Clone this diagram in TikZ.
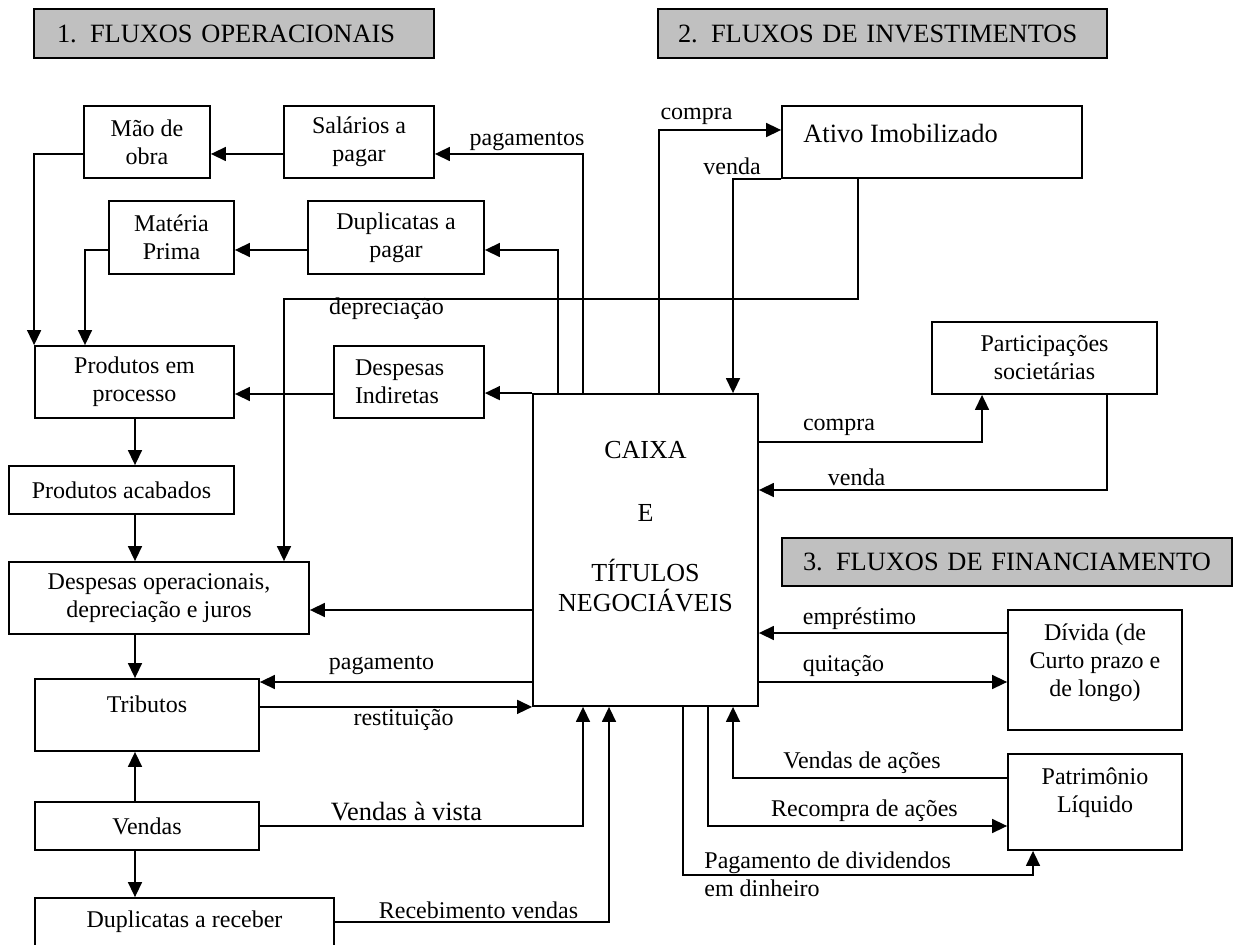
\documentclass[tikz,border=0pt]{standalone}
\usepackage{fontspec}
\setmainfont{Liberation Serif}
\usetikzlibrary{arrows.meta,calc}
\definecolor{hdrgray}{RGB}{192,192,192}
\tikzset{
  box/.style={draw, line width=0.9pt, align=center, inner sep=2pt, font=\fontsize{12}{14}\selectfont},
  header/.style={draw, line width=1pt, fill=hdrgray, align=left, inner ysep=0pt, font=\fontsize{13.2}{15}\selectfont},
  lbl/.style={inner sep=0pt, font=\fontsize{12}{14}\selectfont},
  biglbl/.style={inner sep=0pt, font=\fontsize{13.2}{15}\selectfont},
  flow/.style={line width=0.75pt, -{Triangle[length=7.5pt,width=7pt]}}
}
\begin{document}
\begin{tikzpicture}[x=0.5pt,y=-0.5pt]
  \useasboundingbox (0,0) rectangle (1234,945);
  \node[header, minimum width=200pt, minimum height=24.5pt, text width=177pt, inner xsep=11.5pt] (h1) at (234,33.5) {1. FLUXOS OPERACIONAIS};
  \node[header, minimum width=224.5pt, minimum height=24.5pt, text width=204.5pt, inner xsep=10pt] (h2) at (882.5,33.5) {2. FLUXOS DE INVESTIMENTOS};
  \node[header, minimum width=225pt, minimum height=24pt, text width=204pt, inner xsep=10.5pt] (h3) at (1007,562) {3. FLUXOS DE FINANCIAMENTO};

  \node[box, minimum width=63pt, minimum height=36pt] (mao) at (147,142) {Mão de\\obra};
  \node[box, minimum width=75pt, minimum height=36pt] (sal) at (359,142) {Salários a\\pagar};
  \node[box, minimum width=62.5pt, minimum height=36.5pt] (mat) at (171.5,237.5) {Matéria\\Prima};
  \node[box, minimum width=88pt, minimum height=36.5pt] (dupp) at (396,237.5) {Duplicatas a\\pagar};
  \node[box, minimum width=150pt, minimum height=36pt] (ativo) at (932,142) {};
  \node[biglbl, anchor=west] (ativo-txt) at (803,133) {Ativo Imobilizado};
  \node[box, minimum width=112.5pt, minimum height=36pt] (part) at (1044.5,358) {Participações\\societárias};
  \node[box, minimum width=99.5pt, minimum height=36pt] (proc) at (134.5,382) {Produtos em\\processo};
  \node[box, minimum width=75pt, minimum height=36pt, text width=54pt, align=left] (dind) at (409,382) {Despesas\\Indiretas};
  \node[box, minimum width=112.5pt, minimum height=24pt] (acab) at (121.5,490) {Produtos acabados};
  \node[box, minimum width=150pt, minimum height=36pt] (dop) at (159,598) {Despesas operacionais,\\depreciação e juros};
  \node[box, minimum width=112.5pt, minimum height=156pt] (caixa) at (645.5,550) {};
  \node[lbl, align=center, font=\fontsize{13}{15}\selectfont] (caixa-txt) at (645.5,526.5) {CAIXA\\[16.5pt]E\\[15pt]TÍTULOS\\NEGOCIÁVEIS};
  \node[box, minimum width=112pt, minimum height=36pt] (trib) at (147,715) {};
  \node[lbl] (trib-txt) at (147,704) {Tributos};
  \node[box, minimum width=112pt, minimum height=24pt] (vend) at (147,826) {Vendas};
  \node[box, minimum width=149.5pt, minimum height=24pt] (dupr) at (184.5,922) {Duplicatas a receber};
  \node[box, minimum width=87pt, minimum height=60pt] (div) at (1095,670) {};
  \node[lbl, align=center] (div-txt) at (1095,662.5) {Dívida (de\\Curto prazo e\\de longo)};
  \node[box, minimum width=87pt, minimum height=48pt] (pat) at (1095,802) {};
  \node[lbl, align=center] (pat-txt) at (1095,793) {Patrimônio\\Líquido};

  \draw[flow] (caixa.north -| 583,0) |- (sal.east |- 0,154);
  \draw[flow] (caixa.north -| 558,0) |- (dupp.east |- 0,250);
  \draw[flow] (sal.west |- 0,154) -- (mao.east |- 0,154);
  \draw[flow] (dupp.west |- 0,250) -- (mat.east |- 0,250);
  \draw[flow] (mao.west |- 0,154) -| (proc.north west);
  \draw[flow] (mat.west |- 0,250) -| (proc.north -| 85,0);
  \draw[flow] (ativo.south -| 858,0) -- ++(0,120) -| (dop.north -| 284,0);
  \draw[flow] (ativo.south west) -| (caixa.north -| 733,0);
  \draw[flow] (caixa.north -| 659,0) |- (ativo.west |- 0,130);
  \draw[flow] (caixa.north west) -- (dind.east |- caixa.north west);
  \draw[flow] (dind.west |- 0,394) -- (proc.east |- 0,394);
  \foreach \a/\b in {proc/acab, acab/dop, dop/trib, vend/dupr}
    \draw[flow] (135,0 |- \a.south) -- (135,0 |- \b.north);
  \draw[flow] (135,0 |- vend.north) -- (135,0 |- trib.south);
  \draw[flow] (caixa.west |- 0,610) -- (dop.east |- 0,610);
  \draw[flow] (caixa.west |- 0,682) -- (trib.east |- 0,682);
  \draw[flow] (trib.east |- caixa.south west) -- (caixa.south west);
  \draw[flow] (vend.east) -| (caixa.south -| 583,0);
  \draw[flow] (dupr.east) -| (caixa.south -| 609,0);
  \draw[flow] (caixa.east |- 0,442) -| (part.south -| 982,0);
  \draw[flow] (part.south -| 1107,0) |- (caixa.east |- 0,490);
  \draw[flow] (div.west |- 0,633) -- (caixa.east |- 0,633);
  \draw[flow] (caixa.east |- 0,682) -- (div.west |- 0,682);
  \draw[flow] (pat.west |- 0,778) -| (caixa.south -| 733,0);
  \draw[flow] (caixa.south -| 708,0) |- (pat.west |- 0,826);
  \draw[flow] (caixa.south -| 683,0) -- ++(0,168) -| (pat.south -| 1033,0);

  \node[lbl] (l-pagamentos) at (527,141) {pagamentos};
  \node[lbl] (l-compra1) at (696.5,116) {compra};
  \node[lbl] (l-venda1) at (732,166) {venda};
  \node[lbl] (l-deprec) at (386.5,309) {depreciação};
  \node[lbl] (l-compra2) at (839,427) {compra};
  \node[lbl] (l-venda2) at (856.5,477) {venda};
  \node[lbl] (l-emprest) at (859.5,619) {empréstimo};
  \node[lbl] (l-quit) at (843.5,666) {quitação};
  \node[lbl] (l-pagamento) at (381.5,665) {pagamento};
  \node[lbl] (l-restit) at (403.5,720) {restituição};
  \node[biglbl] (l-vista) at (406.5,812) {Vendas à vista};
  \node[lbl] (l-receb) at (478.5,910) {Recebimento vendas};
  \node[lbl] (l-vacoes) at (862,763) {Vendas de ações};
  \node[lbl] (l-racoes) at (864.5,811) {Recompra de ações};
  \node[lbl, align=left, anchor=north west] (l-divid) at (704,851) {Pagamento de dividendos\\em dinheiro};
\end{tikzpicture}
\end{document}
